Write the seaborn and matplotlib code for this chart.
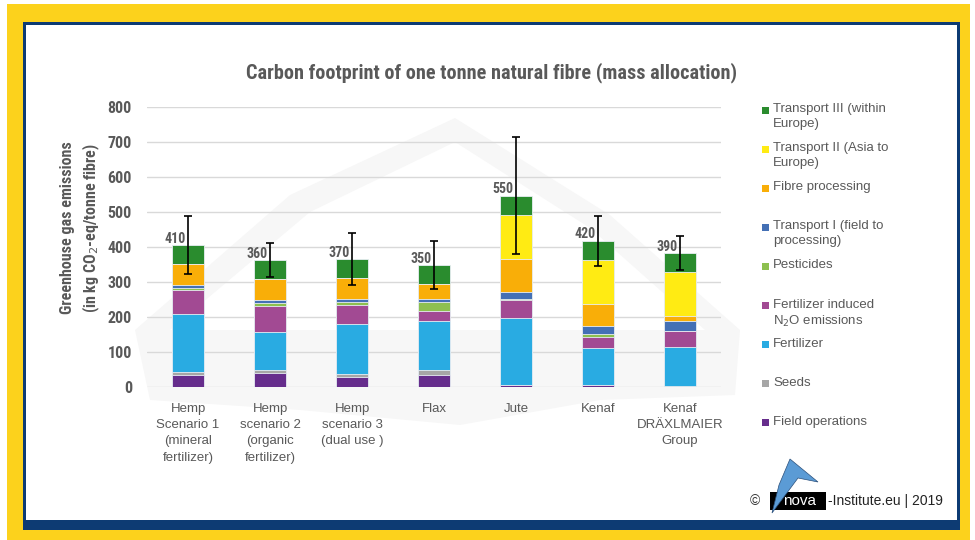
import matplotlib
matplotlib.use("Agg")
import matplotlib.pyplot as plt
from matplotlib.patches import Rectangle, Polygon
import seaborn as sns
import numpy as np
import pandas as pd

# data (kg CO2-eq per tonne fibre)
categories = ["Hemp\nScenario 1\n(mineral\nfertilizer)",
              "Hemp\nscenario 2\n(organic\nfertilizer)",
              "Hemp\nscenario 3\n(dual use )",
              "Flax", "Jute", "Kenaf",
              "Kenaf\nDRÄXLMAIER\nGroup"]

components = ["Field operations", "Seeds", "Fertilizer",
              "Fertilizer induced\nN$_2$O emissions", "Pesticides",
              "Transport I (field to\nprocessing)", "Fibre processing",
              "Transport II (Asia to\nEurope)", "Transport III (within\nEurope)"]

field_operations = [33, 40, 29, 33, 4, 4, 0]
seeds = [10, 9, 8, 16, 1, 1, 3]
fertilizer = [164, 106, 141, 139, 190, 105, 111]
n2o = [68, 76, 56, 29, 52, 33, 46]
pesticides = [7, 8, 8, 25, 3, 8, 0]
transport_1 = [8, 9, 8, 8, 22, 22, 29]
fibre_processing = [61, 60, 61, 44, 94, 63, 14]
transport_2 = [0, 0, 0, 0, 125, 127, 125]
transport_3 = [54, 54, 54, 54, 55, 54, 54]

error = [84, 49, 75, 69, 168, 72, 48]
total_labels = ["410", "360", "370", "350", "550", "420", "390"]

colors = ["#662d8c", "#a6a6a6", "#29abe2", "#a24a93", "#8dc04f",
          "#4470b5", "#f9ae08", "#ffeb13", "#2a8c2e"]

GRAY = "#595959"
NARROW = ["Roboto Condensed", "Liberation Sans", "DejaVu Sans"]
REG = ["Liberation Sans", "DejaVu Sans"]

sns.set_theme(style="white")
plt.rcParams["font.family"] = REG

W, H = 975, 540
fig = plt.figure(figsize=(W / 100, H / 100), dpi=100)
fig.patch.set_facecolor("white")


def px(x, y):
    return (x / W, 1 - y / H)


def frect(x0, y0, x1, y1, color, z):
    r = Rectangle(px(x0, y1), (x1 - x0) / W, (y1 - y0) / H,
                  transform=fig.transFigure, facecolor=color,
                  edgecolor="none", zorder=z)
    fig.patches.append(r)


# frame: yellow border, navy line, white panel
frect(7, 4, 970, 540, "#fcd21c", -10)
frect(23, 22, 960, 530, "#0d3b73", -9)
frect(26, 25, 957, 520, "white", -8)

# faint watermark (sail outline + lower band)
sail = Polygon([px(135, 330), px(290, 195), px(455, 118), px(610, 215),
                px(740, 330), px(705, 330), px(590, 228), px(455, 142),
                px(310, 212), px(170, 330)], closed=True,
               transform=fig.transFigure, facecolor="#f7f7f7",
               edgecolor="none", zorder=-7)
fig.patches.append(sail)
band = Polygon([px(135, 330), px(740, 330), px(735, 395), px(600, 400),
                px(460, 425), px(300, 410), px(150, 400)], closed=True,
               transform=fig.transFigure, facecolor="#f7f7f7",
               edgecolor="none", zorder=-7)
fig.patches.append(band)

ax = fig.add_axes([147 / W, (H - 386.7) / H, 574 / W, 280 / H])
ax.set_facecolor("none")

data = pd.DataFrame({
    "category": categories,
    "Field operations": field_operations,
    "Seeds": seeds,
    "Fertilizer": fertilizer,
    "N2O": n2o,
    "Pesticides": pesticides,
    "Transport I": transport_1,
    "Fibre processing": fibre_processing,
    "Transport II": transport_2,
    "Transport III": transport_3,
})
layer_cols = list(data.columns[1:])
cum = data[layer_cols].cumsum(axis=1)

# stacked bars: draw cumulative totals from top layer down
for i in range(len(layer_cols) - 1, -1, -1):
    sns.barplot(x=data["category"], y=cum[layer_cols[i]], color=colors[i],
                saturation=1, width=0.39, errorbar=None, ax=ax,
                edgecolor="#e8eef4", linewidth=0.6, zorder=3)

totals = cum[layer_cols[-1]].values
xs = np.arange(len(categories))
ax.errorbar(xs, totals, yerr=error, fmt="none", ecolor="black",
            elinewidth=1.2, capsize=3, capthick=1.2, zorder=5)
for x, t, lab in zip(xs, totals, total_labels):
    ax.text(x - 0.03, t + 18, lab, ha="right", va="center", fontsize=10,
            fontweight="bold", color=GRAY, family=NARROW, zorder=6)

ax.set_xlim(-0.5, len(categories) - 0.5)
ax.set_ylim(0, 800)
ax.set_yticks(range(0, 801, 100))
ax.yaxis.grid(True, color="#d9d9d9", linewidth=1)
ax.set_axisbelow(True)
for s in ax.spines.values():
    s.set_visible(False)
ax.tick_params(axis="y", length=0, pad=10.8, labelsize=11.5, labelcolor=GRAY)
ax.tick_params(axis="x", length=0, pad=12, labelsize=9.5, labelcolor=GRAY)
for t in ax.get_yticklabels():
    t.set_family(NARROW)
    t.set_fontweight("bold")
for t in ax.get_xticklabels():
    t.set_linespacing(1.45)
    t.set_verticalalignment("top")
ax.set_xlabel("")
ax.set_ylabel("")

fig.text(*px(81, 228), "Greenhouse gas emissions\n(in kg CO$_2$-eq/tonne fibre)",
         rotation=90, ha="center", va="center", fontsize=11.5,
         fontweight="bold", color=GRAY, family=NARROW, linespacing=1.4)

fig.text(*px(492, 73), "Carbon footprint of one tonne natural fibre (mass allocation)",
         ha="center", va="center", fontsize=14.6, fontweight="bold",
         color=GRAY, family=NARROW)

# legend (top entry first), fixed slots like the original
for k, idx in enumerate(range(len(components) - 1, -1, -1)):
    yc = 110 + k * 39.1
    frect(762, yc - 3.5, 769, yc + 3.5, colors[idx], 1)
    fig.text(*px(773, yc - 7), components[idx], ha="left", va="top",
             fontsize=9.5, color=GRAY, family=REG, linespacing=1.35)

# copyright
fig.text(*px(755, 501), "©", ha="center", va="center", fontsize=10,
         color="#333333")
logo_sail = Polygon([px(772, 513), px(779, 485), px(790, 459), px(818, 482),
                     px(798, 478)],
                    closed=True, transform=fig.transFigure,
                    facecolor="#5b9bd5", edgecolor="#2b4f7a", lw=0.5, zorder=2)
frect(770, 492, 826, 510, "black", 1)
fig.patches.append(logo_sail)
fig.text(*px(800, 501), "nova", ha="center", va="center", fontsize=11,
         color="white", zorder=3)
fig.text(*px(828, 501), "-Institute.eu | 2019", ha="left", va="center",
         fontsize=10, color="#222222")

fig.savefig("out.png", dpi=100)
